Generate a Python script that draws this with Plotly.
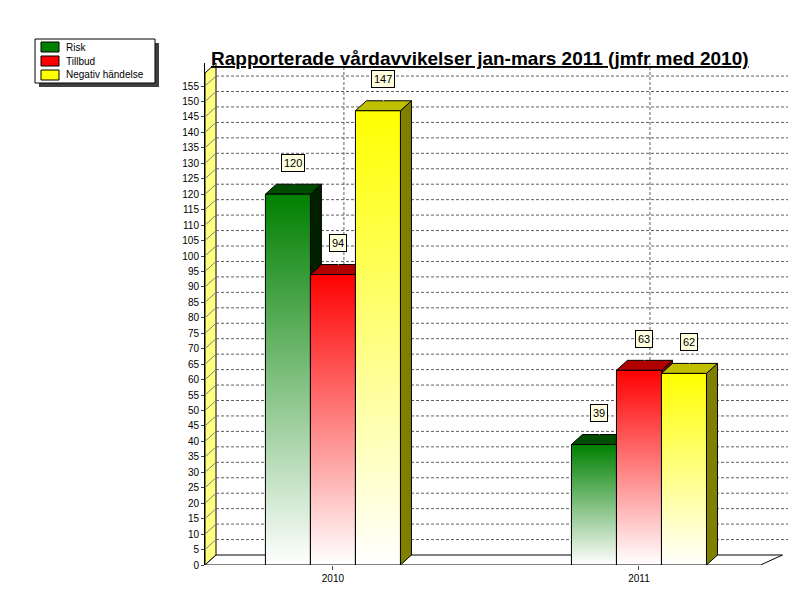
import plotly.graph_objects as go

years = ["2010", "2011"]
series = ["Risk", "Tillbud", "Negativ händelse"]
values = {
    "Risk": [120, 39],
    "Tillbud": [94, 63],
    "Negativ händelse": [147, 62],
}
front_colors = {"Risk": "#008000", "Tillbud": "#ff0000", "Negativ händelse": "#ffff00"}
top_colors = {"Risk": "#004d00", "Tillbud": "#b00000", "Negativ händelse": "#c0c000"}
side_colors = {"Risk": "#002000", "Tillbud": "#800000", "Negativ händelse": "#808000"}

# plot area geometry (pixels): left 197, right 780, bottom 557, top 55
PX_X = 306.0            # pixels per category
PX_Y = 15.45 / 5        # pixels per unit
XL, XR = -0.418, 1.487
YMAX = 502 / PX_Y
DX, DY = 11 / PX_X, 10 / PX_Y
BW = 45 / PX_X
offsets = [-BW, 0, BW]

fig = go.Figure()
shapes = []
annotations = []

# left wall (yellow)
shapes.append(dict(type="path", xref="x", yref="y",
                   path=f"M{XL},0 L{XL+DX},{DY} L{XL+DX},{YMAX} L{XL},{YMAX-DY} Z",
                   fillcolor="#ffff80", line=dict(color="black", width=1), layer="below"))
# floor
shapes.append(dict(type="path", xref="x", yref="y",
                   path=f"M{XL},0 L{XR-DX*2.5},0 L{XR-DX*1.5+DX},{DY} L{XL+DX},{DY} Z",
                   fillcolor="white", line=dict(color="black", width=1), layer="below"))
# back wall grid
for v in range(5, 160, 5):
    shapes.append(dict(type="line", xref="x", yref="y", x0=XL + DX, x1=XR, y0=v + DY, y1=v + DY,
                       line=dict(color="#606060", width=1, dash="3px,2px"), layer="below"))
    shapes.append(dict(type="line", xref="x", yref="y", x0=XL, x1=XL + DX, y0=v, y1=v + DY,
                       line=dict(color="#808080", width=1), layer="below"))
for c in range(len(years)):
    shapes.append(dict(type="line", xref="x", yref="y", x0=c + DX, x1=c + DX, y0=DY, y1=YMAX,
                       line=dict(color="#606060", width=1, dash="3px,2px"), layer="below"))

for i, year in enumerate(years):
    for s, off in zip(series, offsets):
        v = values[s][i]
        x0, x1 = i + off - BW / 2, i + off + BW / 2
        # side
        fig.add_trace(go.Scatter(x=[x1, x1 + DX, x1 + DX, x1, x1], y=[0, DY, v + DY, v, 0],
                                 fill="toself", fillcolor=side_colors[s], mode="lines",
                                 line=dict(color="black", width=1), hoverinfo="skip", showlegend=False))
        # top
        fig.add_trace(go.Scatter(x=[x0, x0 + DX, x1 + DX, x1, x0], y=[v, v + DY, v + DY, v, v],
                                 fill="toself", fillcolor=top_colors[s], mode="lines",
                                 line=dict(color="black", width=1), hoverinfo="skip", showlegend=False))
        # front with gradient
        fig.add_trace(go.Scatter(x=[x0, x1, x1, x0, x0], y=[0, 0, v, v, 0], fill="toself",
                                 fillgradient=dict(type="vertical",
                                                   colorscale=[[0, "white"], [1, front_colors[s]]]),
                                 mode="lines", line=dict(color="black", width=1),
                                 name=s, hoverinfo="name+y", showlegend=False))
        # value label
        lx = i + off + DX / 2
        fig.add_trace(go.Scatter(x=[lx, lx], y=[v + DY, v + DY + 4], mode="lines",
                                 line=dict(color="white", width=1), hoverinfo="skip", showlegend=False))
        annotations.append(dict(x=lx, y=v + DY + 4, xref="x", yref="y", text=str(v), showarrow=False,
                                yanchor="bottom", bgcolor="#ffffe0", bordercolor="black", borderwidth=1,
                                borderpad=2, font=dict(size=11, color="black", family="Liberation Sans")))

# legend box (pixel positions converted to paper)
def px(xp, yp):
    return (xp - 197) / 583, (557 - yp) / 502

sx0, sy0 = px(31, 35)
sx1, sy1 = px(151, 79)
shapes.append(dict(type="rect", xref="paper", yref="paper", x0=sx0, y0=sy0, x1=sx1, y1=sy1,
                   fillcolor="#404040", line=dict(width=0)))
bx0, by0 = px(27, 31)
bx1, by1 = px(147, 75)
shapes.append(dict(type="rect", xref="paper", yref="paper", x0=bx0, y0=by0, x1=bx1, y1=by1,
                   fillcolor="white", line=dict(color="black", width=1)))
for k, s in enumerate(series):
    yc = 39 + k * 14
    a0, b0 = px(33, yc - 5)
    a1, b1 = px(51, yc + 5)
    shapes.append(dict(type="rect", xref="paper", yref="paper", x0=a0, y0=b0, x1=a1, y1=b1,
                       fillcolor=front_colors[s], line=dict(color="black", width=1)))
    tx, ty = px(56, yc)
    annotations.append(dict(x=tx, y=ty, xref="paper", yref="paper", text=s, showarrow=False,
                            xanchor="left", yanchor="middle",
                            font=dict(size=10, color="black", family="Liberation Sans")))

tx, ty = px(472, 38)
annotations.append(dict(x=tx, y=ty, xref="paper", yref="paper",
                        text="<b><u>Rapporterade vårdavvikelser jan-mars 2011 (jmfr med 2010)</u></b>",
                        showarrow=False, font=dict(size=19, color="black", family="Liberation Sans")))

fig.update_layout(
    width=800, height=600, paper_bgcolor="white", plot_bgcolor="white",
    margin=dict(l=197, r=20, t=55, b=43, autoexpand=False),
    shapes=shapes, annotations=annotations, showlegend=False,
    font=dict(family="Liberation Sans", size=10, color="black"),
    xaxis=dict(range=[XL, XR], tickvals=list(range(len(years))), ticktext=years,
               showgrid=False, zeroline=False, showline=False, ticks="outside",
               ticklen=4, tickfont=dict(size=10), automargin=False),
    yaxis=dict(range=[0, YMAX], tickvals=list(range(0, 160, 5)), showgrid=False,
               zeroline=False, showline=True, linecolor="black", ticks="outside",
               ticklen=3, tickfont=dict(size=10), automargin=False),
)

fig.write_html("out.html")
